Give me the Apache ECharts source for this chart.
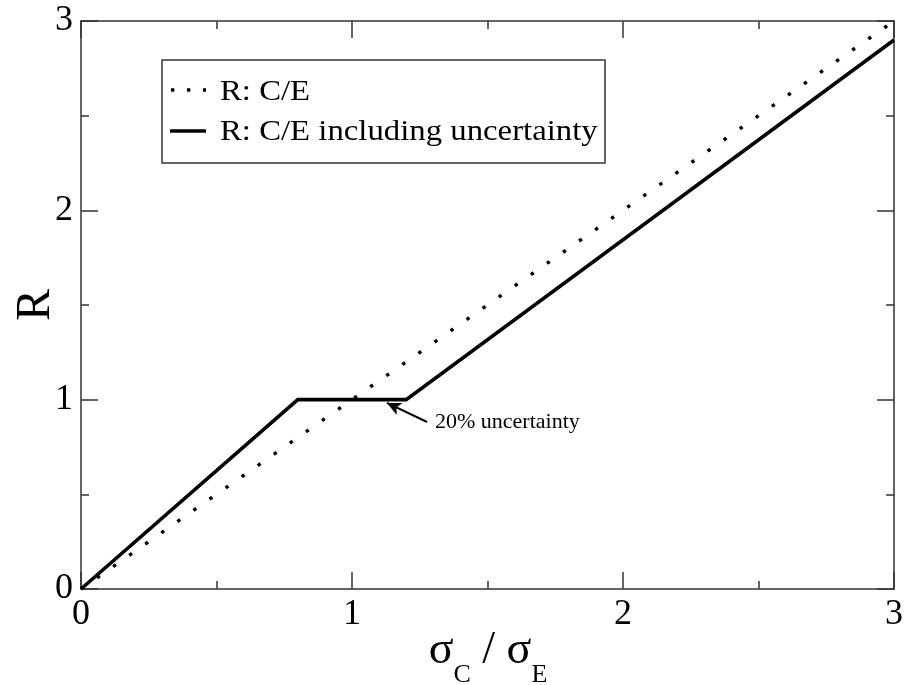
<!DOCTYPE html>
<html><head><meta charset="utf-8">
<script src="https://cdn.jsdelivr.net/npm/echarts@6/dist/echarts.min.js"></script>
<style>html,body{margin:0;padding:0;background:#fff}#c{width:911px;height:685px}</style>
</head><body><div id="c"></div>
<script>
const ratioX = [0, 3];                       // sigma_C / sigma_E
const plainR = [0, 3];                       // R: C/E
const uncX = [0, 0.8, 1.2, 3];
const uncR = [0, 1, 1, 2.9];                 // R: C/E including uncertainty
const xTicks = [0, 1, 2, 3];
const yTicks = [0, 1, 2, 3];
const legendNames = ['R: C/E', 'R: C/E including uncertainty'];
const xTitle = '{m|σ}{s|C}{m| / σ}{s|E}';
const yTitle = 'R';
const annotationText = '20% uncertainty';
const arrowFrom = [1.277, 0.882];
const arrowTo = [1.129, 0.983];

const FONT = "'Liberation Serif','DejaVu Serif','Times New Roman',serif";
const AX = '#333';
const chart = echarts.init(document.getElementById('c'), null, {renderer: 'canvas'});

function axisCommon(show) {
  return {
    type: 'value', min: 0, max: 3, interval: 1,
    axisLine: {show: true, onZero: false, lineStyle: {color: AX, width: 1.5}},
    axisTick: {show: true, inside: true, length: 17, lineStyle: {color: AX, width: 1.5}},
    minorTick: {show: true, splitNumber: 2, length: 8, lineStyle: {color: AX, width: 1.5}},
    splitLine: {show: false},
    minorSplitLine: {show: false},
    axisLabel: {show: show, fontFamily: FONT, fontSize: 36, color: '#000', margin: 8}
  };
}

const option = {
  animation: false,
  backgroundColor: '#fff',
  grid: {left: 81, right: 17, top: 21, bottom: 96, containLabel: false, outerBoundsMode: 'none'},
  xAxis: [
    Object.assign(axisCommon(true), {position: 'bottom'}),
    Object.assign(axisCommon(false), {position: 'top'})
  ],
  yAxis: [
    Object.assign(axisCommon(true), {
      position: 'left',
      name: yTitle, nameLocation: 'middle', nameGap: 21, nameRotate: 90, nameMoveOverlap: false,
      nameTextStyle: {fontFamily: FONT, fontSize: 48, color: '#000'}
    }),
    Object.assign(axisCommon(false), {position: 'right'})
  ],
  series: [
    {
      name: legendNames[0], type: 'line', xAxisIndex: 0, yAxisIndex: 0,
      data: ratioX.map((x, i) => [x, plainR[i]]),
      showSymbol: false, symbol: 'none',
      lineStyle: {color: '#000', width: 3.4, type: [3.4, 16.2], cap: 'butt'}
    },
    {
      name: legendNames[1], type: 'line', xAxisIndex: 0, yAxisIndex: 0,
      data: uncX.map((x, i) => [x, uncR[i]]),
      showSymbol: false, symbol: 'none',
      lineStyle: {color: '#000', width: 3.6, join: 'miter'},
      markLine: {
        silent: true, animation: false,
        symbol: ['none', 'arrow'], symbolSize: [10, 14],
        lineStyle: {color: '#000', width: 2, type: 'solid'},
        label: {show: false},
        data: [[{coord: arrowFrom}, {coord: arrowTo}]]
      }
    }
  ],
  graphic: [
    {type: 'text', x: 488, y: 688,
      style: {text: xTitle, fontFamily: FONT, fill: '#000', align: 'center', verticalAlign: 'bottom',
        rich: {
          m: {fontFamily: FONT, fontSize: 46, fill: '#000', verticalAlign: 'bottom', padding: [0, 0, 14, 0]},
          s: {fontFamily: FONT, fontSize: 26, fill: '#000', verticalAlign: 'bottom'}
        }}, z: 11},
    {type: 'rect', shape: {x: 162, y: 60, width: 443, height: 103},
      style: {fill: '#fff', stroke: AX, lineWidth: 1.5}, z: 10},
    {type: 'line', shape: {x1: 171, y1: 90, x2: 206, y2: 90},
      style: {stroke: '#000', lineWidth: 3.4, lineDash: [3.4, 12.6], lineCap: 'butt'}, z: 11},
    {type: 'line', shape: {x1: 170, y1: 131, x2: 206, y2: 131},
      style: {stroke: '#000', lineWidth: 3.6}, z: 11},
    {type: 'text', x: 220, y: 92, scaleX: 1.13,
      style: {text: legendNames[0], fontFamily: FONT, fontSize: 29, fill: '#000', verticalAlign: 'middle'}, z: 11},
    {type: 'text', x: 220, y: 132, scaleX: 1.13,
      style: {text: legendNames[1], fontFamily: FONT, fontSize: 29, fill: '#000', verticalAlign: 'middle'}, z: 11},
    {type: 'text', x: 435, y: 422,
      style: {text: annotationText, fontFamily: FONT, fontSize: 22, fill: '#000', verticalAlign: 'middle'}, z: 11}
  ]
};
chart.setOption(option);
</script>
</body></html>
